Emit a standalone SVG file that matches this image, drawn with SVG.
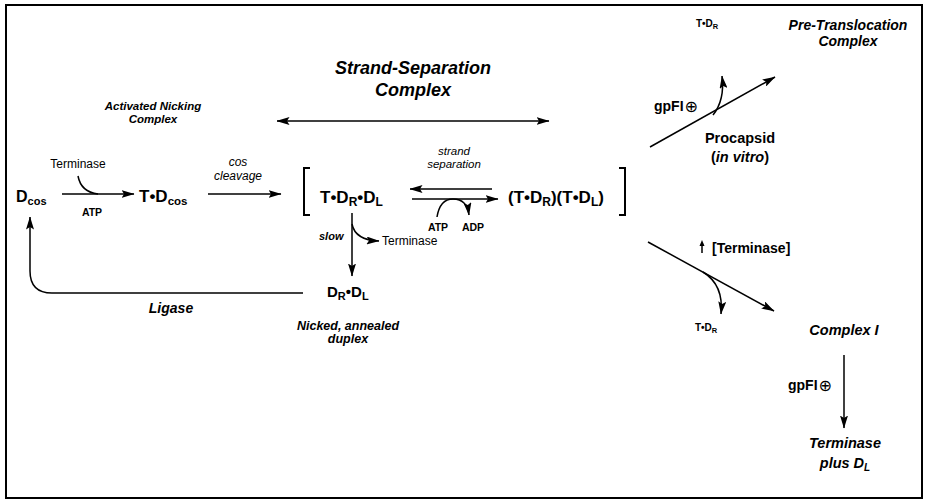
<svg xmlns="http://www.w3.org/2000/svg" width="927" height="502" viewBox="0 0 927 502">
<defs>
<marker id="ah" markerUnits="userSpaceOnUse" markerWidth="13" markerHeight="8" viewBox="0 0 13 8" refX="12.5" refY="4" orient="auto-start-reverse">
<path d="M0,0 L13,4 L0,8 L2.5,4 z" fill="#000"/>
</marker>
</defs>
<style>
.t{font-family:"Liberation Sans",Arial,sans-serif;fill:#000}
.b{font-weight:bold}
.i{font-style:italic}
.bi{font-weight:bold;font-style:italic}
.ln{fill:none;stroke:#000;stroke-width:1.5}
.arr{fill:none;stroke:#000;stroke-width:1.5;marker-end:url(#ah)}
.br{fill:none;stroke:#000;stroke-width:2}
.sym{font-family:"DejaVu Sans",sans-serif}
</style>
<rect x="6" y="5" width="916" height="493" fill="#fff" stroke="#000" stroke-width="2"/>

<g id="connectors">
<path class="arr" d="M62,194 L134,194"/>
<path class="ln" d="M78,176 Q81,192 98,194"/>
<path class="arr" d="M208,194 L281,194"/>
<path class="arr" d="M492,189 L410,189"/>
<path class="arr" d="M412,199 L498,199"/>
<path class="arr" d="M437,217 Q440,199 453,199 Q467,199 469,215"/>
<path class="arr" d="M352,213 L352,276"/>
<path class="arr" d="M352,224 Q355,240 379,241"/>
<path class="arr" d="M303,293 L52,293 Q30,293 30,271 L30,217"/>
<path class="arr" d="M277,121 L549,121" style="marker-start:url(#ah)"/>
<path class="arr" d="M650,147 L775,77"/>
<path class="arr" d="M713,115 Q725,100 722,76"/>
<path class="arr" d="M648,242 L774,311"/>
<path class="arr" d="M703,272 Q724,285 721,314"/>
<path class="arr" d="M844,355 L844,428"/>
<path class="ln" d="M702,253 L702,243"/>
<path d="M699.5,246 L702,240 L704.5,246 z" fill="#000"/>
</g>

<g id="n-dcos">
<text class="t b" x="16" y="202" font-size="16">D<tspan font-size="11" dy="3">cos</tspan></text>
<text class="t" x="78" y="168" font-size="12" text-anchor="middle">Terminase</text>
<text class="t b" x="92" y="216" font-size="10.5" text-anchor="middle">ATP</text>
</g>

<g id="n-tdcos">
<text class="t b" x="139" y="202" font-size="17">T•D<tspan font-size="11.5" dy="3">cos</tspan></text>
<text class="t i" x="238" y="166" font-size="12" text-anchor="middle">cos</text>
<text class="t i" x="238" y="180" font-size="12" text-anchor="middle">cleavage</text>
</g>

<g id="n-nicking-label">
<text class="t bi" x="153" y="110" font-size="11.5" text-anchor="middle">Activated Nicking</text>
<text class="t bi" x="153" y="123" font-size="11.5" text-anchor="middle">Complex</text>
</g>

<g id="n-strand-sep-label">
<text class="t bi" x="413" y="74" font-size="18" text-anchor="middle">Strand-Separation</text>
<text class="t bi" x="413" y="96" font-size="18" text-anchor="middle">Complex</text>
</g>

<g id="n-complex">
<path class="br" d="M310,168 L304,168 L304,215 L310,215"/>
<path class="br" d="M619,168 L625,168 L625,215 L619,215"/>
<text class="t b" x="320" y="203" font-size="17">T•D<tspan font-size="12" dy="3">R</tspan><tspan dy="-3">•D</tspan><tspan font-size="12" dy="3">L</tspan></text>
<text class="t i" x="454" y="155" font-size="11.5" text-anchor="middle">strand</text>
<text class="t i" x="454" y="168" font-size="11.5" text-anchor="middle">separation</text>
<text class="t b" x="438" y="231" font-size="10.5" text-anchor="middle">ATP</text>
<text class="t b" x="473" y="231" font-size="10.5" text-anchor="middle">ADP</text>
<text class="t b" x="508" y="203" font-size="17">(T•D<tspan font-size="12" dy="3">R</tspan><tspan dy="-3">)(T•D</tspan><tspan font-size="12" dy="3">L</tspan><tspan dy="-3">)</tspan></text>
</g>

<g id="n-drdl">
<text class="t bi" x="319" y="240" font-size="11">slow</text>
<text class="t" x="382" y="245" font-size="12">Terminase</text>
<text class="t b" x="327" y="297" font-size="15">D<tspan font-size="11" dy="3">R</tspan><tspan dy="-3">•D</tspan><tspan font-size="11" dy="3">L</tspan></text>
<text class="t bi" x="348" y="330" font-size="12.5" text-anchor="middle">Nicked, annealed</text>
<text class="t bi" x="348" y="343" font-size="12.5" text-anchor="middle">duplex</text>
<text class="t bi" x="171" y="313" font-size="14" text-anchor="middle">Ligase</text>
</g>

<g id="n-pretrans">
<text class="t bi" x="848" y="30" font-size="14" text-anchor="middle">Pre-Translocation</text>
<text class="t bi" x="848" y="46" font-size="14" text-anchor="middle">Complex</text>
<text class="t b" x="696" y="27" font-size="10">T•D<tspan font-size="7.5" dy="2">R</tspan></text>
<text class="t b" x="654" y="111" font-size="14">gpFI<tspan class="sym" font-size="16" font-weight="normal" dx="1" dy="1">⊕</tspan></text>
<text class="t b" x="740" y="143" font-size="14.5" text-anchor="middle">Procapsid</text>
<text class="t b" x="740" y="162" font-size="14.5" text-anchor="middle">(<tspan class="i">in vitro</tspan>)</text>
</g>

<g id="n-complex1">
<text class="t b" x="712" y="253" font-size="14">[Terminase]</text>
<text class="t b" x="695" y="331" font-size="10">T•D<tspan font-size="7.5" dy="2">R</tspan></text>
<text class="t bi" x="844" y="335" font-size="14.5" text-anchor="middle">Complex I</text>
<text class="t b" x="788" y="390" font-size="14">gpFI<tspan class="sym" font-size="16" font-weight="normal" dx="1" dy="1">⊕</tspan></text>
<text class="t bi" x="845" y="448" font-size="14.5" text-anchor="middle">Terminase</text>
<text class="t bi" x="845" y="468" font-size="14.5" text-anchor="middle">plus D<tspan font-size="10" dy="3">L</tspan></text>
</g>
</svg>
